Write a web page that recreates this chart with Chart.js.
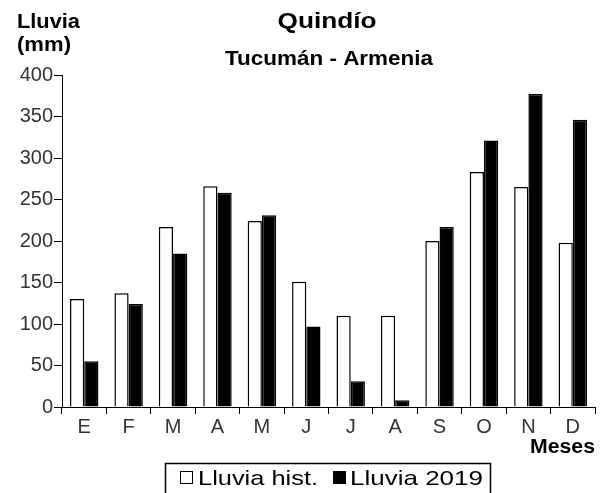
<!DOCTYPE html>
<html>
<head>
<meta charset="utf-8">
<script src="https://cdn.jsdelivr.net/npm/chart.js@4.4.1/dist/chart.umd.min.js"></script>
<style>
  html, body { margin: 0; padding: 0; background: #fff; }
  #wrap { width: 607px; height: 493px; }
</style>
</head>
<body>
<div id="wrap"><canvas id="chart"></canvas></div>
<script>
const months = ["E", "F", "M", "A", "M", "J", "J", "A", "S", "O", "N", "D"];
const lluviaHist = [130, 137, 217, 266, 224, 151, 110, 110, 200, 283, 265, 198];
const lluvia2019 = [55, 124, 185, 258, 231, 97, 31, 8, 217, 321, 377, 346];
const seriesNames = ["Lluvia hist.", "Lluvia 2019"];
const yMax = 400;
const yStep = 50;

const titleText = "Quindío";
const subtitleText = "Tucumán - Armenia";
const yTitle = ["Lluvia", "(mm)"];
const xTitle = "Meses";

// draw text squeezed/stretched to a given width (the source fonts are wide)
function fitText(ctx, text, x, y, font, width, align) {
  ctx.font = font;
  const s = width / ctx.measureText(text).width;
  ctx.save();
  ctx.translate(x, y);
  ctx.scale(s, 1);
  ctx.textAlign = align;
  ctx.textBaseline = "alphabetic";
  ctx.fillText(text, 0, 0);
  ctx.restore();
}

const textPlugin = {
  id: "texts",
  afterDraw(chart) {
    const ctx = chart.ctx;
    const area = chart.chartArea;
    ctx.save();
    ctx.fillStyle = "#000";
    fitText(ctx, titleText, 327, 28, "bold 22px 'Liberation Sans', Arial", 99, "center");
    fitText(ctx, subtitleText, 329, 65, "bold 21px 'Liberation Sans', Arial", 208, "center");
    fitText(ctx, yTitle[0], 17, 28, "bold 20px 'Liberation Sans', Arial", 63, "left");
    fitText(ctx, yTitle[1], 17, 51, "bold 20px 'Liberation Sans', Arial", 54, "left");
    fitText(ctx, xTitle, area.right, 453, "bold 20px 'Liberation Sans', Arial", 65, "right");

    // legend box
    const ds = chart.data.datasets;
    ctx.strokeStyle = "#000";
    ctx.lineWidth = 1.5;
    ctx.strokeRect(165.5, 463.5, 325, 40);
    const items = [
      { box: 180, text: 198, w: 120 },
      { box: 333, text: 350, w: 133 }
    ];
    items.forEach((it, i) => {
      ctx.fillStyle = ds[i].backgroundColor;
      ctx.fillRect(it.box, 471, 13, 13);
      ctx.lineWidth = 1;
      ctx.strokeRect(it.box + 0.5, 471.5, 12, 12);
      ctx.fillStyle = "#000";
      fitText(ctx, ds[i].label, it.text, 485, "21px 'Liberation Sans', Arial", it.w, "left");
    });
    ctx.restore();
  }
};

new Chart(document.getElementById("chart"), {
  type: "bar",
  data: {
    labels: months,
    datasets: [
      {
        label: seriesNames[0],
        data: lluviaHist,
        backgroundColor: "#ffffff",
        borderColor: "#000000",
        borderWidth: 1.5
      },
      {
        label: seriesNames[1],
        data: lluvia2019,
        backgroundColor: "#000000",
        borderColor: "#000000",
        borderWidth: 1.5
      }
    ]
  },
  options: {
    responsive: true,
    maintainAspectRatio: false,
    animation: false,
    layout: { padding: { top: 75, left: 0, right: 12, bottom: 56 } },
    datasets: { bar: { categoryPercentage: 0.64, barPercentage: 1.0 } },
    plugins: {
      legend: { display: false },
      tooltip: { enabled: false },
      title: { display: false }
    },
    scales: {
      x: {
        grid: {
          offset: true,
          drawOnChartArea: false,
          drawTicks: true,
          tickLength: 7,
          color: "#000"
        },
        border: { color: "#000", width: 1 },
        ticks: {
          color: "#333",
          padding: 1,
          font: { family: "'Liberation Sans', Arial", size: 20 },
          maxRotation: 0
        },
        afterFit(scale) { scale.height = 30; }
      },
      y: {
        min: 0,
        max: yMax,
        grid: {
          drawOnChartArea: false,
          drawTicks: true,
          tickLength: 8,
          color: "#000"
        },
        border: { color: "#000", width: 1 },
        ticks: {
          stepSize: yStep,
          color: "#333",
          padding: 1,
          font: { family: "'Liberation Sans', Arial", size: 20 }
        },
        afterFit(scale) { scale.width = 62; }
      }
    }
  },
  plugins: [textPlugin]
});
</script>
</body>
</html>
